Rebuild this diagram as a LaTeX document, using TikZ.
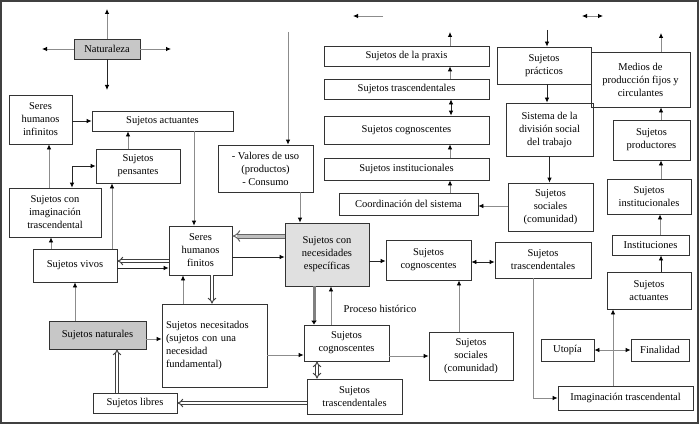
\documentclass[tikz,border=0pt]{standalone}
\usepackage{fontspec}
\setmainfont{Liberation Serif}
\usepackage{tikz}
\usetikzlibrary{arrows.meta,calc}
\tikzset{every picture/.style={line width=0.75pt}}
\tikzset{
  caja/.style={draw=black!80, line width=0.8pt, rectangle, inner sep=1pt, align=center, font=\fontsize{10.5}{13}\selectfont},
  cajagris/.style={caja, fill=black!22},
  cajaclara/.style={caja, fill=black!12},
  punta/.tip={Latex[length=5pt,width=4.5pt,color=black]},
  flecha/.style={draw=black!45, line width=0.8pt, -punta},
  flechan/.style={flecha, draw=black!85},
  dflecha/.style={draw=black!45, line width=0.8pt, punta-punta},
  dflechan/.style={dflecha, draw=black!85},
  hueca/.style={draw=black!75, line width=1pt, double=white, double distance=1.8pt, -{Implies}},
  dhueca/.style={hueca, {Implies}-{Implies}},
}

\begin{document}
\begin{tikzpicture}[x=1pt,y=1pt,yscale=-1,xscale=1]
\useasboundingbox (0,0) rectangle (700,425);
%Frame
\draw [black!75, line width=1.2pt] (1,1) rectangle (698,423);

% Text Node
\node [cajagris, minimum width=66, minimum height=20] (nat) at (107,49) {Naturaleza};
\node [caja, minimum width=63, minimum height=49] (inf) at (40.5,119.5) {Seres\\humanos\\infinitos};
\node [caja, minimum width=141, minimum height=20] (actL) at (162.5,121) {Sujetos actuantes};
\node [caja, minimum width=84, minimum height=34] (pens) at (138,166) {Sujetos\\pensantes};
\node [caja, minimum width=92, minimum height=49] (imag) at (55,212.5) {Sujetos con\\imaginación\\trascendental};
\node [caja, minimum width=84, minimum height=33] (vivos) at (75,265.5) {Sujetos vivos};
\node [caja, minimum width=63, minimum height=49] (finitos) at (200.5,250.5) {Seres\\humanos\\finitos};
\node [caja, minimum width=95, minimum height=47] (valores) at (265.5,168.5) {- Valores de uso\\(productos)\\- Consumo};
\node [cajaclara, minimum width=84, minimum height=63] (neces) at (327,254.5) {Sujetos con\\necesidades\\específicas};
\node [caja, minimum width=85, minimum height=40] (cogM) at (428.5,260) {Sujetos\\cognoscentes};
\node [caja, minimum width=96, minimum height=36] (trasM) at (543,260) {Sujetos\\trascendentales};
\node [caja, minimum width=135, minimum height=24] (imagT) at (625.5,398) {Imaginación trascendental};
\node [caja, minimum width=53, minimum height=22] (utop) at (567.5,350) {Utopía};
\node [caja, minimum width=58, minimum height=22] (fin) at (660,350) {Finalidad};
\node [caja, minimum width=84, minimum height=37] (actR) at (649,290.5) {Sujetos\\actuantes};
\node [caja, minimum width=77, minimum height=20] (inst) at (650.5,245) {Instituciones};
\node [caja, minimum width=84, minimum height=35] (instR) at (649,196.5) {Sujetos\\institucionales};
\node [caja, minimum width=77, minimum height=40] (prod) at (651.5,140) {Sujetos\\productores};
\node [caja, minimum width=99, minimum height=55] (medios) at (640.5,79.5) {Medios de\\producción fijos y\\circulantes};
\node [caja, minimum width=94, minimum height=37] (pract) at (544,65.5) {Sujetos\\prácticos};
\node [caja, minimum width=87, minimum height=53] (sist) at (549.5,129.5) {Sistema de la\\división social\\del trabajo};
\node [caja, minimum width=85, minimum height=48] (socU) at (550.5,207) {Sujetos\\sociales\\(comunidad)};
\node [caja, minimum width=139, minimum height=22] (coord) at (408.5,204) {Coordinación del sistema};
\node [caja, minimum width=165, minimum height=20] (praxis) at (406.5,56) {Sujetos de la praxis};
\node [caja, minimum width=165, minimum height=20] (trasU) at (406.5,89) {Sujetos trascendentales};
\node [caja, minimum width=165, minimum height=28] (cogU) at (406.5,130) {Sujetos cognoscentes};
\node [caja, minimum width=165, minimum height=22] (instU) at (406.5,169) {Sujetos institucionales};
\node [cajagris, minimum width=97, minimum height=28] (natur) at (97.5,335) {Sujetos naturales};
\node [caja, minimum width=105, minimum height=83, align=left, text width=97] (necesit) at (214.5,345.5) {Sujetos necesitados\\(sujetos con una\\necesidad\\fundamental)};
\node [caja, minimum width=85, minimum height=36] (cogL) at (346.5,343) {Sujetos\\cognoscentes};
\node [caja, minimum width=84, minimum height=48] (socL) at (471,356) {Sujetos\\sociales\\(comunidad)};
\node [caja, minimum width=95, minimum height=35] (trasL) at (354.5,396.5) {Sujetos\\trascendentales};
\node [caja, minimum width=84, minimum height=20] (libres) at (135,403) {Sujetos libres};
% Text Node
\node [font=\fontsize{10.5}{13}\selectfont] (proc) at (380,309) {Proceso histórico};

%Free ends
\coordinate (natN) at (107,9);
\coordinate (natW) at (42,49);
\coordinate (natE) at (171,49);
\coordinate (natS) at (107,90);
\coordinate (vtop) at (288,32);
\coordinate (praxtop) at (450,32);
\coordinate (practop) at (547,30);
\coordinate (medtop) at (661,33);
\coordinate (leyA1) at (383,16);
\coordinate (leyA2) at (353,16);
\coordinate (leyB1) at (582,16);
\coordinate (leyB2) at (603,16);

%Straight Lines
\draw [flecha] (leyA1) -- (leyA2);
\draw [dflecha] (leyB1) -- (leyB2);
\draw [flecha] (nat.north) -- (natN);
\draw [flecha] (nat.west) -- (natW);
\draw [flecha] (nat.east) -- (natE);
\draw [flechan] (nat.south) -- (natS);

\draw [flechan] (inf.east |- actL.west) -- (actL.west);
\draw [flecha] ($(pens.north)+(-10,0)$) -- ($(actL.south)+(-34.5,0)$);
\draw [flecha] ($(imag.north)+(-6,0)$) -- ($(inf.south)+(8.5,0)$);
\draw [dflechan] ($(imag.north)+(17,0)$) |- (pens.west);
\draw [flecha] ($(vivos.north)+(-24,0)$) -- ($(imag.south)+(-4,0)$);
\draw [flecha] ($(vivos.north)+(37,0)$) -- ($(pens.south)+(-26,0)$);
\draw [hueca] ($(finitos.west)+(0,10.5)$) -- ($(vivos.east)+(0,-4.5)$);
\draw [flechan] ($(vivos.east)+(0,2.5)$) -- ($(finitos.west)+(0,17.5)$);
\draw [flecha] ($(actL.south)+(31.5,0)$) -- ($(finitos.north)+(-6.5,0)$);

\draw [flecha] (vtop) -- (vtop |- valores.north);
\draw [flecha] ($(valores.south)+(34.5,0)$) -- ($(neces.north)+(-27,0)$);
\draw [hueca, draw=black!60, double=black!25, double distance=3pt] ($(neces.west)+(0,-18.5)$) -- ($(finitos.east)+(0,-14.5)$);
\draw [flechan] ($(finitos.east)+(0,6.5)$) -- ($(neces.west)+(0,2.5)$);
\draw [flechan] ($(neces.east)+(0,6.5)$) -- ($(cogM.west)+(0,1)$);
\draw [dflechan] ($(cogM.east)+(0,2)$) -- ($(trasM.west)+(0,2)$);
\draw [flecha] ($(trasM.south)+(-10,0)$) |- (imagT.west);
\draw [flecha] ($(imagT.north)+(-12.5,0)$) -- ($(actR.south)+(-36,0)$);
\draw [dflecha] (utop.east) -- (fin.west);
\draw [flechan] ($(actR.north)+(12,0)$) -- ($(inst.south)+(10.5,0)$);
\draw [flecha] ($(inst.north)+(9.5,0)$) -- ($(instR.south)+(11,0)$);
\draw [flecha] ($(instR.north)+(12,0)$) -- ($(prod.south)+(9.5,0)$);
\draw [flecha] ($(prod.north)+(9.5,0)$) -- ($(medios.south)+(20.5,0)$);
\draw [flecha] ($(medios.north)+(20.5,0)$) -- (medtop);

\draw [flechan] (practop) -- (practop |- pract.north);
\draw [flechan] ($(pract.south)+(3,0)$) -- ($(sist.north)+(-2.5,0)$);
\draw [flechan] (sist.south) -- ($(socU.north)+(-1,0)$);
\draw [flecha] ($(socU.west)+(0,-1)$) -- ($(coord.east)+(0,2)$);
\draw [flecha] ($(coord.north)+(41.5,0)$) -- ($(instU.south)+(43.5,0)$);
\draw [flecha] ($(instU.north)+(43.5,0)$) -- ($(cogU.south)+(43.5,0)$);
\draw [dflechan] ($(cogU.north)+(44.5,0)$) -- ($(trasU.south)+(44.5,0)$);
\draw [flecha] ($(trasU.north)+(43.5,0)$) -- ($(praxis.south)+(43.5,0)$);
\draw [flecha] ($(praxis.north)+(43.5,0)$) -- (praxtop);

\draw [flecha] ($(natur.north)+(-22.5,0)$) -- (vivos.south);
\draw [flecha] ($(natur.east)+(0,4)$) -- ($(necesit.west)+(0,-6.5)$);
\draw [flecha] ($(necesit.north)+(-31.5,0)$) -- ($(finitos.south)+(-17.5,0)$);
\draw [hueca] ($(finitos.south)+(11.5,0)$) -- ($(necesit.north)+(-2.5,0)$);
\draw [flecha] ($(necesit.east)+(0,9.5)$) -- ($(cogL.west)+(0,12)$);
\draw [draw=black!50, line width=3pt, -{Latex[length=4pt,width=6pt,color=black]}] ($(neces.south)+(-13,0)$) -- ($(cogL.north)+(-32.5,0)$);
\draw [flecha] ($(cogL.north)+(-15.5,0)$) -- ($(neces.south)+(4,0)$);
\draw [flecha] ($(cogL.east)+(0,13)$) -- (socL.west);
\draw [flecha] ($(socL.north)+(-12,0)$) -- ($(cogM.south)+(30.5,0)$);
\draw [dhueca] ($(cogL.south)+(-29.5,0)$) -- ($(trasL.north)+(-37.5,0)$);
\draw [hueca] ($(trasL.west)+(0,6.5)$) -- (libres.east);
\draw [hueca] ($(libres.north)+(-18,0)$) -- ($(natur.south)+(19.5,0)$);

\end{tikzpicture}
\end{document}
